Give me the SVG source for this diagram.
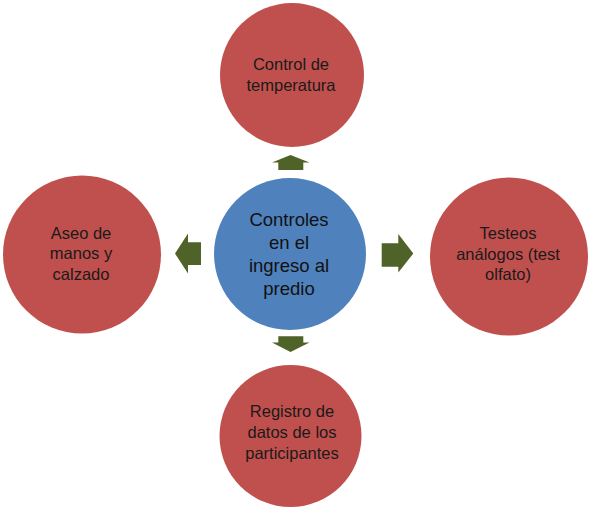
<svg xmlns="http://www.w3.org/2000/svg" width="604" height="509" viewBox="0 0 604 509">
<style>
.outer{fill:#C0504D}
.center{fill:#4F81BD}
.arrow{fill:#4F6228}
.t{font-family:"Liberation Sans",Arial,sans-serif;font-size:16.5px;fill:#1a1a1a;text-anchor:middle}
.tc{font-family:"Liberation Sans",Arial,sans-serif;font-size:18.5px;fill:#111;text-anchor:middle}
</style>
<rect width="604" height="509" fill="#fff"/>
<g id="connectors">
<polygon class="arrow" points="290.5,155 309.5,162.5 303.3,162.5 303.3,170 278.3,170 278.3,162.5 272,162.5"/>
<polygon class="arrow" points="290.5,352 309.5,342.5 303.3,342.5 303.3,336.3 278.3,336.3 278.3,342.5 272,342.5"/>
<polygon class="arrow" points="175,253.5 188,233.5 188,242.3 201,242.3 201,265 188,265 188,273.5"/>
<polygon class="arrow" points="413.3,253.5 398.3,234 398.3,243.3 381.7,243.3 381.7,266.7 398.3,266.7 398.3,272.5"/>
</g>
<g id="node-center">
<circle class="center" cx="290" cy="254" r="76"/>
<text class="tc" x="289" y="226">Controles</text>
<text class="tc" x="289" y="249">en el</text>
<text class="tc" x="289" y="272">ingreso al</text>
<text class="tc" x="289" y="295">predio</text>
</g>
<g id="node-top">
<circle class="outer" cx="292" cy="75" r="72"/>
<text class="t" x="291" y="70">Control de</text>
<text class="t" x="291" y="91">temperatura</text>
</g>
<g id="node-left">
<circle class="outer" cx="82" cy="254.5" r="79"/>
<text class="t" x="81" y="238.5">Aseo de</text>
<text class="t" x="81" y="259">manos y</text>
<text class="t" x="81" y="279.5">calzado</text>
</g>
<g id="node-right">
<circle class="outer" cx="509" cy="256.5" r="79"/>
<text class="t" x="508" y="239">Testeos</text>
<text class="t" x="508" y="260">análogos (test</text>
<text class="t" x="508" y="280">olfato)</text>
</g>
<g id="node-bottom">
<circle class="outer" cx="290.5" cy="436" r="71"/>
<text class="t" x="292" y="417">Registro de</text>
<text class="t" x="292" y="438">datos de los</text>
<text class="t" x="292" y="459">participantes</text>
</g>
</svg>
